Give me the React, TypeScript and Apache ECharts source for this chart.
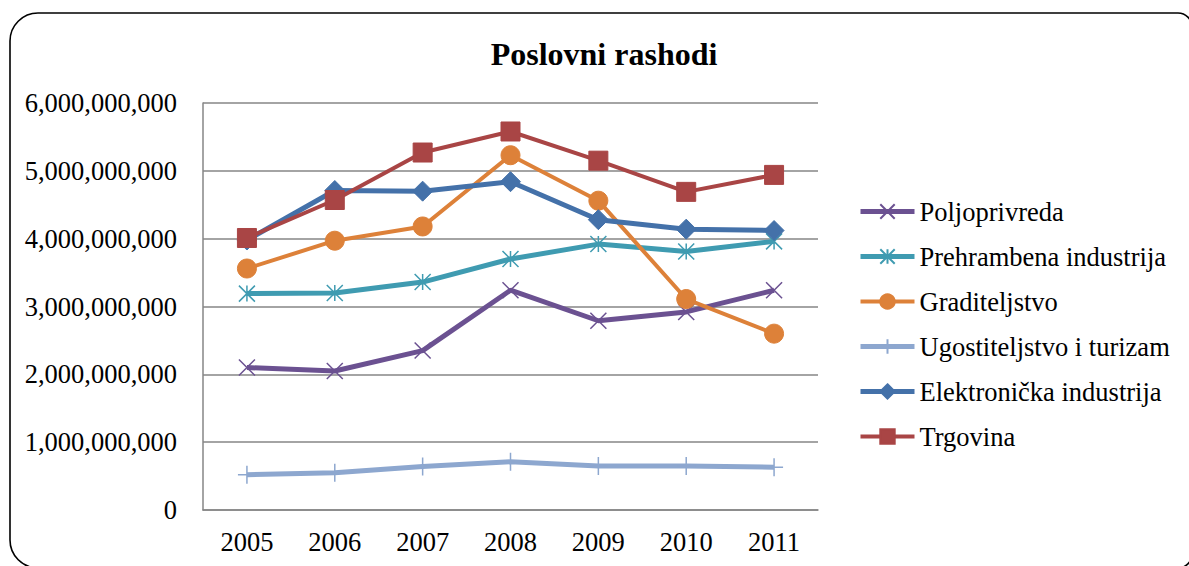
import React, { useEffect, useRef } from "react";
import * as echarts from "echarts";

const years = ["2005", "2006", "2007", "2008", "2009", "2010", "2011"];
const poljoprivreda = [2.1e9, 2.05e9, 2.35e9, 3.24e9, 2.79e9, 2.92e9, 3.24e9];
const prehrambena = [3.19e9, 3.2e9, 3.36e9, 3.7e9, 3.92e9, 3.81e9, 3.96e9];
const graditeljstvo = [3.56e9, 3.97e9, 4.18e9, 5.23e9, 4.56e9, 3.11e9, 2.6e9];
const ugostiteljstvo = [0.52e9, 0.55e9, 0.64e9, 0.71e9, 0.65e9, 0.65e9, 0.63e9];
const elektronicka = [3.98e9, 4.71e9, 4.7e9, 4.84e9, 4.28e9, 4.14e9, 4.12e9];
const trgovina = [4.01e9, 4.57e9, 5.27e9, 5.58e9, 5.15e9, 4.69e9, 4.94e9];

const seriesNames = [
  "Poljoprivreda",
  "Prehrambena industrija",
  "Graditeljstvo",
  "Ugostiteljstvo i turizam",
  "Elektronička industrija",
  "Trgovina",
];

const FONT = "Liberation Serif";
const FS = 26.5;

export default function App() {
  const ref = useRef<HTMLDivElement>(null);
  useEffect(() => {
    if (!ref.current) return;
    const chart = echarts.init(ref.current, undefined, { renderer: "svg" });
    const mk = (
      name: string,
      data: number[],
      color: string,
      symbol: string,
      symbolSize: number,
      width: number,
      borderWidth: number
    ) => ({
      name,
      type: "line",
      data,
      symbol,
      symbolSize,
      showAllSymbol: true,
      lineStyle: { color, width },
      itemStyle: { color, borderColor: color, borderWidth },
    });
    chart.setOption({
      animation: false,
      backgroundColor: "#ffffff",
      textStyle: { fontFamily: FONT },
      title: {
        text: "Poslovni rashodi",
        left: 599,
        textAlign: "center",
        top: 33,
        textStyle: { fontFamily: FONT, fontSize: 32, fontWeight: "bold", color: "#000" },
      },
      graphic: [
        {
          type: "rect",
          z: -10,
          shape: { x: 10, y: 13, width: 1182, height: 555, r: [28, 14, 14, 28] },
          style: { fill: "none", stroke: "#000", lineWidth: 1.6 },
        },
      ],
      legend: {
        orient: "vertical",
        left: 858,
        top: 198,
        padding: 0,
        itemGap: 18,
        itemWidth: 54,
        itemHeight: 18,
        data: seriesNames,
        lineStyle: { width: "inherit" },
        textStyle: { fontFamily: FONT, fontSize: FS, color: "#000" },
      },
      grid: { left: 203, right: 371, top: 103, bottom: 56, containLabel: false },
      xAxis: {
        type: "category",
        data: years,
        boundaryGap: true,
        axisLine: { lineStyle: { color: "#868686", width: 1.5 } },
        axisTick: { show: false },
        axisLabel: { fontFamily: FONT, fontSize: FS, color: "#000", margin: 18 },
      },
      yAxis: {
        type: "value",
        min: 0,
        max: 6e9,
        interval: 1e9,
        axisLine: { show: true, lineStyle: { color: "#868686", width: 1.5 } },
        axisTick: { show: false },
        splitLine: { lineStyle: { color: "#868686", width: 1.5 } },
        axisLabel: {
          fontFamily: FONT,
          fontSize: FS,
          color: "#000",
          margin: 26,
          formatter: (v: number) => v.toLocaleString("en-US"),
        },
      },
      series: [
        mk(seriesNames[0], poljoprivreda, "#6B5191", "path://M0,0L10,10M10,0L0,10", 16, 5, 1.5),
        mk(seriesNames[1], prehrambena, "#3F9BB1", "path://M5,0L5,10M0,0L10,10M10,0L0,10", 16, 5, 1.5),
        mk(seriesNames[2], graditeljstvo, "#DD8139", "circle", 19, 4, 1),
        mk(seriesNames[3], ugostiteljstvo, "#8DA7CF", "path://M5,0L5,10M0,5L10,5", 18, 5, 1.5),
        mk(seriesNames[4], elektronicka, "#4471A9", "diamond", 20, 5, 1),
        mk(seriesNames[5], trgovina, "#A94545", "rect", 19, 4, 1),
      ],
    });
    return () => chart.dispose();
  }, []);
  return (
    <div
      ref={ref}
      style={{ position: "absolute", left: 0, top: 0, width: 1189, height: 566 }}
    />
  );
}
